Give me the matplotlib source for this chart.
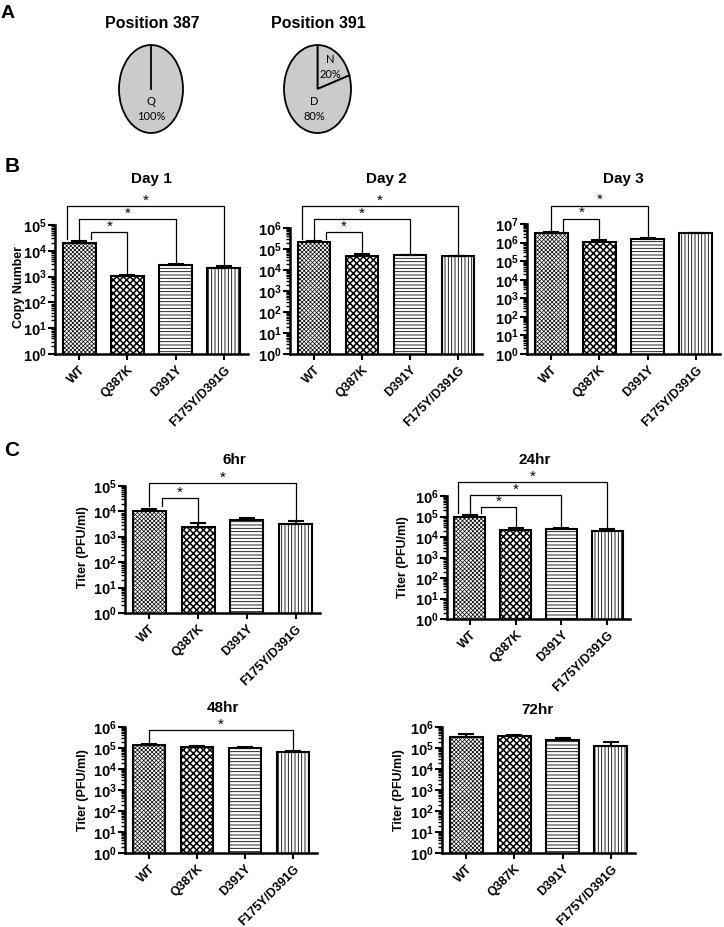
import numpy as np
import matplotlib
matplotlib.use("Agg")
import matplotlib.pyplot as plt
import matplotlib.ticker as mticker

plt.rcParams['font.family'] = ['Liberation Sans', 'DejaVu Sans']
plt.rcParams['mathtext.fontset'] = 'custom'
plt.rcParams['mathtext.rm'] = 'Liberation Sans:bold'
plt.rcParams['mathtext.bf'] = 'Liberation Sans:bold'
plt.rcParams['mathtext.it'] = 'Liberation Sans:bold'
plt.rcParams['hatch.linewidth'] = 0.6

W, H = 724, 927

# ---- panel A: residue frequencies ----
pos387_labels = ["Q"]
pos387_pct = [100]
pos391_labels = ["N", "D"]
pos391_pct = [20, 80]

# ---- panels B and C: bar values (mean, sem) ----
groups = ["WT", "Q387K", "D391Y", "F175Y/D391G"]

day1_mean = [2.0e4, 1.1e3, 2.9e3, 2.2e3]
day1_sem = [4e3, 1e2, 3e2, 3e2]
day2_mean = [2.2e5, 4.6e4, 5.0e4, 4.5e4]
day2_sem = [2e4, 1.1e4, 4e3, 1e3]
day3_mean = [3.3e6, 1.07e6, 1.5e6, 3.2e6]
day3_sem = [3e5, 2.3e5, 3e5, 0]

t6_mean = [1.05e4, 2.5e3, 4.6e3, 3.3e3]
t6_sem = [2.5e3, 1.0e3, 1.0e3, 8e2]
t24_mean = [9.5e4, 2.2e4, 2.5e4, 2.0e4]
t24_sem = [2.5e4, 6e3, 3e3, 4e3]
t48_mean = [1.4e5, 1.1e5, 1.0e5, 6.5e4]
t48_sem = [2e4, 2e4, 1.5e4, 5e3]
t72_mean = [3.3e5, 3.7e5, 2.4e5, 1.2e5]
t72_sem = [1.5e5, 6e4, 5e4, 8e4]

# mutants significantly different from WT
day1_sig = [1, 2, 3]
day2_sig = [1, 2, 3]
day3_sig = [1, 2]
t6_sig = [1, 3]
t24_sig = [1, 2, 3]
t48_sig = [3]
t72_sig = []

hatches = ['xxxxxxxx', 'xxxxx', '-----', '|||||']
hatch_lw = [0.5, 1.1, 0.6, 0.6]

fig = plt.figure(figsize=(W / 100, H / 100), dpi=100)


def px_axes(x0, y0, x1, y1):
    return fig.add_axes([x0 / W, 1 - y1 / H, (x1 - x0) / W, (y1 - y0) / H])


def fig_text(x, y, s, **kw):
    fig.text(x / W, 1 - y / H, s, ha='center', va='center', **kw)


# panel A
fig_text(8, 14, 'A', fontsize=14, fontweight='bold')


def draw_pie(box, title, title_x, pct, labels, label_pos):
    ax = px_axes(*box)
    wedges, _ = ax.pie(pct, colors=['#cbcbcb'] * len(pct), startangle=90,
                       counterclock=False,
                       wedgeprops=dict(edgecolor='black', linewidth=1.3, clip_on=False))
    if len(pct) == 1:
        # a full wedge has no radial edge, draw the start boundary
        a = np.deg2rad(90)
        ax.plot([0, np.cos(a)], [0, np.sin(a)], color='black', lw=1.3, clip_on=False)
    ax.set_aspect('auto')
    ax.set_xlim(-1, 1)
    ax.set_ylim(-1, 1)
    for lab, p, (lx, ly) in zip(labels, pct, label_pos):
        ax.text(lx, ly, f"{lab}\n{p}%", ha='center', va='center', fontsize=8,
                family=['Lato', 'DejaVu Sans'], linespacing=1.45)
    fig_text(title_x, 23, title, fontsize=11.5, fontweight='bold')


draw_pie((119, 45, 183, 133), 'Position 387', 152, pos387_pct, pos387_labels, [(0, -0.45)])
draw_pie((284, 45, 351, 133), 'Position 391', 318, pos391_pct, pos391_labels,
         [(0.39, 0.5), (-0.09, -0.45)])

fig_text(12, 166, 'B', fontsize=15, fontweight='bold')
fig_text(12, 450, 'C', fontsize=15, fontweight='bold')


def draw_bars(box, mean, sem, sig, sig_y, dec, title, title_xy, ylabel=None, ylabel_xy=None):
    ax = px_axes(*box)
    ax.set_yscale('log')
    x = np.arange(len(groups))
    bars = ax.bar(x, mean, width=0.68, color='white', edgecolor='black',
                  linewidth=1.5, zorder=2)
    for b, h, lw in zip(bars, hatches, hatch_lw):
        b.set_hatch(h)
        if hasattr(b, 'set_hatch_linewidth'):
            b.set_hatch_linewidth(lw)
    ax.errorbar(x, mean, yerr=[np.zeros(len(mean)), sem], fmt='none', ecolor='black',
                elinewidth=1.5, capsize=6, capthick=1.5, zorder=3)
    ax.set_ylim(1, 10 ** dec)
    ax.set_xlim(-0.5, 3.5)
    ax.yaxis.set_major_locator(mticker.FixedLocator([10.0 ** k for k in range(dec + 1)]))
    ax.yaxis.set_major_formatter(mticker.FixedFormatter(
        [r'$\mathbf{10^{%d}}$' % k for k in range(dec + 1)]))
    ax.yaxis.set_minor_locator(mticker.FixedLocator(
        [m * 10.0 ** k for k in range(dec) for m in range(2, 10)]))
    ax.yaxis.set_minor_formatter(mticker.NullFormatter())
    ax.set_xticks(x)
    ax.set_xticklabels(groups, rotation=45, ha='right', rotation_mode='anchor',
                       fontsize=9, fontweight='bold')
    ax.tick_params(axis='y', which='major', direction='out', length=5, width=1.5,
                   labelsize=10.5, pad=1)
    ax.tick_params(axis='y', which='minor', direction='out', length=3, width=1)
    ax.tick_params(axis='x', length=4, width=1.5, pad=3)
    for s in ['top', 'right']:
        ax.spines[s].set_visible(False)
    for s in ['left', 'bottom']:
        ax.spines[s].set_linewidth(1.8)

    # significance brackets against WT
    n = len(sig)
    for k, (j, fy) in enumerate(zip(sig, sig_y)):
        yb = 10 ** (fy * dec)
        off = 0.0 if n == 1 else 0.25 - 0.25 * k
        xl, xr = off, j
        yl = (mean[0] + sem[0]) * 1.2
        yr = (mean[j] + sem[j]) * 1.15
        ax.plot([xl, xl, xr, xr], [yl, yb, yb, yr], color='black', lw=0.9,
                clip_on=False, zorder=4)
        ax.annotate('*', ((xl + xr) / 2, yb), xytext=(0, -1), textcoords='offset points',
                    ha='center', va='bottom', fontsize=11, annotation_clip=False)

    fig_text(title_xy[0], title_xy[1], title, fontsize=11, fontweight='bold')
    if ylabel:
        fig_text(ylabel_xy[0], ylabel_xy[1], ylabel, rotation=90, fontsize=9, fontweight='bold')
    return ax


draw_bars((55, 225, 248, 354), day1_mean, day1_sem, day1_sig, [0.946, 1.047, 1.147], 5,
          'Day 1', (151, 179), 'Copy Number', (19, 287))
draw_bars((290, 228, 482, 354), day2_mean, day2_sem, day2_sig, [0.968, 1.071, 1.175], 6,
          'Day 2', (386, 179))
draw_bars((527, 224, 720, 354), day3_mean, day3_sem, day3_sig, [1.04, 1.14], 7,
          'Day 3', (623, 179))

draw_bars((125, 486, 320, 613), t6_mean, t6_sem, t6_sig, [0.906, 1.024], 5,
          '6hr', (234, 460), 'Titer (PFU/ml)', (83, 547))
draw_bars((447, 496, 630, 619), t24_mean, t24_sem, t24_sig, [0.91, 1.008, 1.114], 6,
          '24hr', (535, 460), 'Titer (PFU/ml)', (403, 557))
draw_bars((125, 727, 317, 853), t48_mean, t48_sem, t48_sig, [0.976], 6,
          '48hr', (223, 708), 'Titer (PFU/ml)', (83, 790))
draw_bars((442, 727, 635, 853), t72_mean, t72_sem, t72_sig, [], 6,
          '72hr', (537, 710), 'Titer (PFU/ml)', (399, 790))

fig.savefig('out.png', dpi=100)
